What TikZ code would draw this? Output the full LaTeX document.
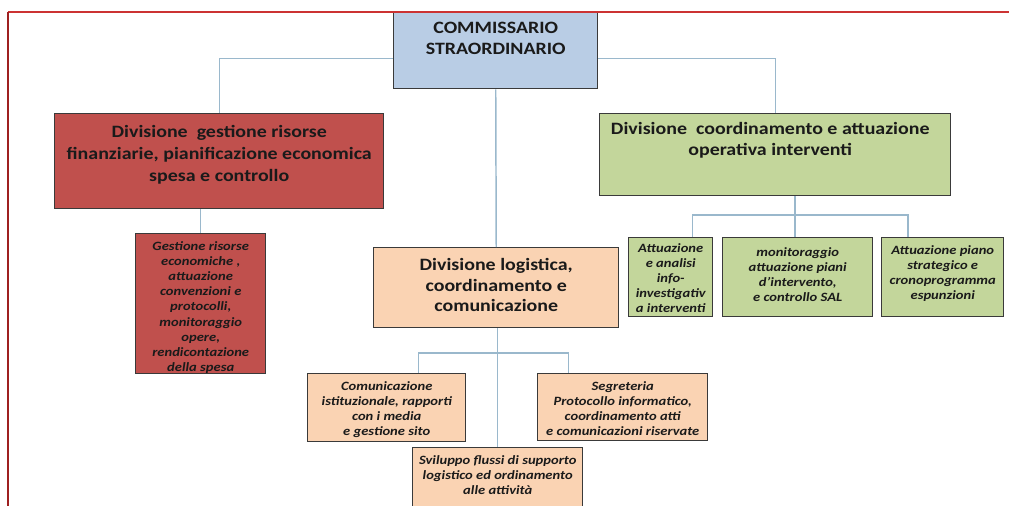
\documentclass[tikz,border=0pt]{standalone}
\usepackage{fontspec}
\setmainfont{Carlito}
\newfontfamily\headfont{Carlito}[FakeStretch=1.15]
\usetikzlibrary{positioning}
\definecolor{comblue}{HTML}{B9CDE5}
\definecolor{finred}{HTML}{C0504D}
\definecolor{opegreen}{HTML}{C3D69B}
\definecolor{logpeach}{HTML}{FAD3B3}
\definecolor{boxline}{HTML}{3A3A3A}
\definecolor{linkblue}{HTML}{9AB8CC}
\definecolor{headtext}{HTML}{1A1A1A}
\definecolor{frametop}{HTML}{CC3333}
\definecolor{frameleft}{HTML}{9E2020}

\tikzset{
  box/.style={draw=boxline, line width=1.1pt, anchor=north west, inner sep=0pt},
  boxsize/.style 2 args={minimum width=#1*0.75pt, minimum height=#2*0.75pt},
  head/.style={font=\headfont\bfseries\fontsize{13}{15.5}\selectfont, align=center, inner sep=0pt, text=headtext},
  note/.style={font=\headfont\bfseries\itshape\fontsize{9.5}{11.4}\selectfont, align=center, inner sep=0pt, text=headtext},
  link/.style={draw=linkblue, line width=1.1pt}
}

\begin{document}
\begin{tikzpicture}[x=0.75pt,y=-0.75pt]
    \useasboundingbox (0,0) rectangle (1009,506);

    \node[box,boxsize={204}{76},fill=comblue] (com) at (393,12) {};
    \node[box,boxsize={329}{95},fill=finred] (fin) at (54,113) {};
    \node[box,boxsize={351}{82},fill=opegreen] (ope) at (599,113) {};
    \node[box,boxsize={245}{80},fill=logpeach] (log) at (373,247) {};

    \node[box,boxsize={130}{140},fill=finred] (ris) at (135,233) {};
    \node[box,boxsize={84}{79},fill=opegreen] (inv) at (628,237) {};
    \node[box,boxsize={150}{79},fill=opegreen] (mon) at (722,237) {};
    \node[box,boxsize={122}{79},fill=opegreen] (cro) at (881,237) {};
    \node[box,boxsize={158}{68},fill=logpeach] (med) at (307,373) {};
    \node[box,boxsize={170}{67},fill=logpeach] (seg) at (537,373) {};
    \node[box,boxsize={170}{70},fill=logpeach] (svi) at (412,447) {};

    \node[head, below=7.5pt of com.north] (comtext) {COMMISSARIO\\STRAORDINARIO};
    \node[head, below=9pt of fin.north, font=\headfont\bfseries\fontsize{13}{16.5}\selectfont] (fintext)
      {Divisione\ \ gestione risorse\\finanziarie, pianificazione economica\\spesa e controllo};
    \node[head, below=6.75pt of ope.north, xshift=-3.75pt] (opetext) {Divisione\ \ coordinamento e attuazione\\operativa interventi};
    \node[head, below=8.25pt of log.north] (logtext) {Divisione logistica,\\coordinamento e\\comunicazione};

    \node[note, below=6pt of ris.north] (ristext) {Gestione risorse\\economiche ,\\attuazione\\convenzioni e\\protocolli,\\monitoraggio\\opere,\\rendicontazione\\della spesa};
    \node[note, below=4.5pt of inv.north] (invtext) {Attuazione\\e analisi\\info-\\investigativ\\a interventi};
    \node[note, below=7.5pt of mon.north] (montext) {monitoraggio\\attuazione piani\\d’intervento,\\e controllo SAL};
    \node[note, below=6pt of cro.north] (crotext) {Attuazione piano\\strategico e\\cronoprogramma\\espunzioni};
    \node[note, below=6pt of med.north] (medtext) {Comunicazione\\istituzionale, rapporti\\con i media\\e gestione sito};
    \node[note, below=6pt of seg.north] (segtext) {Segreteria\\Protocollo informatico,\\coordinamento atti\\e comunicazioni riservate};
    \node[note, below=6pt of svi.north] (svitext) {Sviluppo flussi di supporto\\logistico ed ordinamento\\alle attività};

    \coordinate (opebus) at (795,215);
    \coordinate (logbus) at (497,353);

    \draw[link] ([yshift=-6pt]com.west) -| (fin.north);
    \draw[link] ([yshift=-6pt]com.east) -| (ope.north);
    \draw[link] (com.south) -- (log.north);
    \draw[link] (fin.south -| ris.north) -- (ris.north);
    \draw[link] (ope.south -| opebus) -- (opebus |- mon.north);
    \draw[link] ([xshift=16.5pt]inv.north) |- (opebus) -| ([xshift=-26pt]cro.north);
    \draw[link] (log.south -| svi.north) -- (svi.north);
    \draw[link] ([xshift=24pt]med.north) |- (logbus) -| ([xshift=-40.5pt]seg.north);

    \draw[frametop, line width=1.1pt] (8,12) -- (1009,12);
    \draw[frameleft, line width=1.3pt] (8,12) -- (8,506);
  \end{tikzpicture}
\end{document}
